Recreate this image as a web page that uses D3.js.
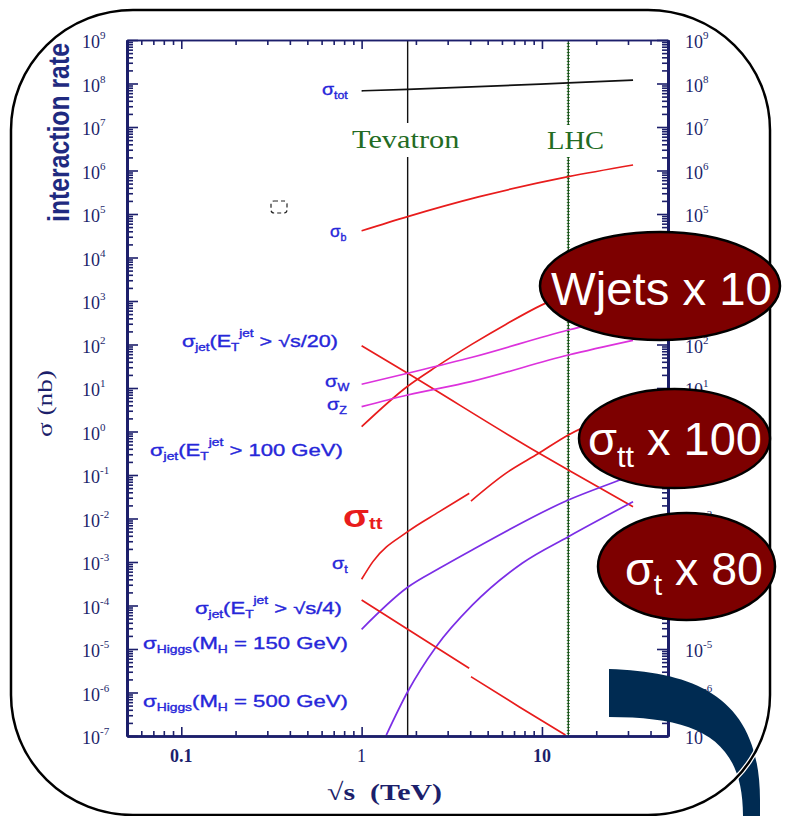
<!DOCTYPE html>
<html>
<head>
<meta charset="utf-8">
<script src="https://cdn.jsdelivr.net/npm/d3@7"></script>
<style>
 body { margin: 0; background: #fff; }
 svg { display: block; }
 text { white-space: pre; }
</style>
</head>
<body>
<svg id="chart" width="786" height="816"></svg>
<script>
 // ---- data (sqrt(s) in TeV, sigma in nb) ----
 const energyDomain = [0.05, 50];
 const sigmaDomain = [1e-7, 1e9];
 const tevatronE = 1.8;
 const lhcE = 14;

 const sigmaTot = [[1, 6.8e7], [1.8, 7.3e7], [14, 1.03e8], [32, 1.2e8]];
 const sigmaB = [[1, 4.1e4], [1.8, 8.7e4], [4.5, 2.5e5], [14, 7.2e5], [32, 1.34e6]];
 const sigmaJet20 = [[1, 93.8], [1.8, 21.8], [9.6, 0.32], [14, 0.13], [32, 0.0187]];
 const sigmaJet100 = [[1, 1.29], [1.8, 11], [2.6, 31], [4.1, 102], [6.3, 290], [10, 815], [20, 2500], [33, 5200]];
 const sigmaW = [[1, 12.2], [1.8, 21.8], [4.1, 50.8], [14, 215], [33, 500]];
 const sigmaZ = [[1, 3.72], [1.8, 6.9], [4.04, 14.0], [14, 57.4], [32, 125]];
 const sigmaTopPpbar = [[1, 4.0e-4], [1.155, 1.02e-3], [1.8, 4.98e-3], [2.7, 1.44e-2], [3.95, 3.79e-2]];
 const sigmaTopPp = [[4.04, 2.52e-2], [6.3, 0.109], [9.6, 0.315], [14, 0.832], [33, 3.2]];
 const sigmaHiggs150 = [[1, 2.84e-5], [1.8, 2.62e-4], [2.7, 7.16e-4], [4.1, 1.89e-3], [14, 2.66e-2], [27, 7.67e-2], [33, 0.106]];
 const sigmaHiggs500 = [[1.37, 1.05e-7], [1.8, 1.04e-6], [2.59, 1.13e-5], [4.12, 1.03e-4], [7.8, 9.5e-4], [14, 3.82e-3], [32, 2.43e-2]];
 const sigmaJet4Ppbar = [[1, 1.34e-4], [1.8, 2.84e-5], [3.95, 3.6e-6]];
 const sigmaJet4Pp = [[4.04, 2.31e-6], [7.46, 4.72e-7], [13.5, 1.05e-7]];

 const xTickValues = [0.1, 1, 10];
 const xTickLabels = ['0.1', '1', '10'];
 const yTickExponents = [-7, -6, -5, -4, -3, -2, -1, 0, 1, 2, 3, 4, 5, 6, 7, 8, 9];
 // right-hand labels that the badges hide completely are left out
 const yRightExponents = [-7, -6, -5, -2, 1, 2, 5, 6, 7, 8, 9];

 const red = '#e81c1c', magenta = '#dc32dc', purple = '#7b2ee6';
 const curves = [
   {color: '#111', segs: [sigmaTot]},
   {color: red, segs: [sigmaB]},
   {color: red, segs: [sigmaJet20]},
   {color: red, segs: [sigmaJet100]},
   {color: magenta, segs: [sigmaW]},
   {color: magenta, segs: [sigmaZ]},
   {color: red, segs: [sigmaTopPpbar, sigmaTopPp]},
   {color: purple, segs: [sigmaHiggs150]},
   {color: purple, segs: [sigmaHiggs500]},
   {color: red, segs: [sigmaJet4Ppbar, sigmaJet4Pp]}
 ];

 // label texts: [text, size, baseline offset]
 const sig = 'σ';
 const curveLabels = [
   [[sig, 16, 0], ['tot', 10, 4]],
   [[sig, 16, 0], ['b', 10, 4]],
   [[sig, 16, 0], ['jet', 10, 4], ['(E', 16, 0], ['T', 10, 4], ['jet', 10, -10], [' > √s/20)', 16, 0]],
   [[sig, 16, 0], ['W', 10, 4]],
   [[sig, 16, 0], ['Z', 10, 4]],
   [[sig, 16, 0], ['jet', 10, 4], ['(E', 16, 0], ['T', 10, 4], ['jet', 10, -10], [' > 100 GeV)', 16, 0]],
   [[sig, 16, 0], ['t', 10, 4]],
   [[sig, 16, 0], ['jet', 10, 4], ['(E', 16, 0], ['T', 10, 4], ['jet', 10, -10], [' > √s/4)', 16, 0]],
   [[sig, 16, 0], ['Higgs', 10, 4], ['(M', 16, 0], ['H', 10, 4], [' = 150 GeV)', 16, 0]],
   [[sig, 16, 0], ['Higgs', 10, 4], ['(M', 16, 0], ['H', 10, 4], [' = 500 GeV)', 16, 0]]
 ];
 // layout for labels: x0, x1, baseline
 const curveLabelBoxes = [
   [322, 348, 95], [330, 347, 237], [182, 338, 347], [325, 350, 387], [327, 347, 410],
   [150, 343, 456], [332, 348, 569], [195, 342, 614], [143, 348, 649], [143, 348, 707]
 ];

 const badges = [
   {cx: 660, cy: 286, rx: 120, ry: 54, parts: [['Wjets x 10', 46, 0]], box: [551, 772, 305]},
   {cx: 674.5, cy: 438.5, rx: 95.5, ry: 49.5, parts: [[sig, 46, 0], ['tt', 30, 12], [' x 100', 46, 0]], box: [588, 762, 455]},
   {cx: 686.5, cy: 566.5, rx: 88.5, ry: 53.5, parts: [[sig, 46, 0], ['t', 30, 10], [' x 80', 46, 0]], box: [625, 763, 585]}
 ];

 // ---- drawing ----
 const svg = d3.select('#chart');
 const plot = {left: 127, right: 668, top: 40, bottom: 736};
 const x = d3.scaleLog().domain(energyDomain).range([plot.left, plot.right]);
 const y = d3.scaleLog().domain(sigmaDomain).range([plot.bottom, plot.top]);
 const navy = '#1c1f6b';

 svg.append('defs').append('clipPath').attr('id', 'plotclip')
    .append('rect').attr('x', plot.left).attr('y', plot.top)
    .attr('width', plot.right - plot.left).attr('height', plot.bottom - plot.top);

 function fitText(parts, box, style) {
   const t = svg.append('text')
                .attr('fill', style.fill)
                .attr('font-family', style.family)
                .attr('font-weight', style.weight || 'normal');
   if (style.stroke) t.attr('stroke', style.fill).attr('stroke-width', style.stroke);
   parts.forEach(p => t.append('tspan').attr('y', p[2]).attr('font-size', p[1]).text(p[0]));
   const bb = t.node().getBBox();
   const sx = (box[1] - box[0]) / bb.width;
   if (style.rotate) {
     t.attr('transform', `translate(${box[2]},${box[1]}) rotate(-90) scale(${sx},1) translate(${-bb.x},0)`);
   } else {
     t.attr('transform', `translate(${box[0]},${box[2]}) scale(${sx},1) translate(${-bb.x},0)`);
   }
   return t;
 }

 // vertical collider lines
 svg.append('line').attr('x1', x(tevatronE)).attr('x2', x(tevatronE))
    .attr('y1', plot.top).attr('y2', plot.bottom)
    .attr('stroke', '#111').attr('stroke-width', 1.4);
 svg.append('line').attr('x1', x(lhcE)).attr('x2', x(lhcE))
    .attr('y1', plot.top).attr('y2', plot.bottom)
    .attr('stroke', '#3a9a3a').attr('stroke-width', 3).attr('stroke-dasharray', '1,2');
 svg.append('line').attr('x1', x(lhcE)).attr('x2', x(lhcE))
    .attr('y1', plot.top).attr('y2', plot.bottom)
    .attr('stroke', '#173d17').attr('stroke-width', 1.2);

 // curves
 const line = d3.line().x(d => x(d[0])).y(d => y(d[1])).curve(d3.curveMonotoneX);
 const gCurves = svg.append('g').attr('clip-path', 'url(#plotclip)');
 curves.forEach(c => {
   c.segs.forEach(s => {
     gCurves.append('path').attr('d', line(s)).attr('fill', 'none')
            .attr('stroke', c.color).attr('stroke-width', 1.7);
   });
 });

 // collider names with white background
 svg.append('rect').attr('x', 350).attr('y', 123).attr('width', 112).attr('height', 34).attr('fill', '#fff');
 svg.append('rect').attr('x', 545).attr('y', 125).attr('width', 62).attr('height', 32).attr('fill', '#fff');
 fitText([['Tevatron', 25, 0]], [352, 460, 148], {fill: '#236b23', family: 'Liberation Serif, serif'});
 fitText([['LHC', 25, 0]], [547, 604, 149], {fill: '#236b23', family: 'Liberation Serif, serif'});

 // axes
 const yMajor = yTickExponents.map(e => Math.pow(10, e));
 const yMinor = d3.range(-7, 9).flatMap(e => d3.range(2, 10).map(m => m * Math.pow(10, e)));
 const xAll = x.ticks();
 const xMinor = xAll.filter(v => !xTickValues.some(t => Math.abs(t - v) < 1e-9));

 function styleAxis(g, w) {
   g.select('.domain').attr('stroke', navy).attr('stroke-width', w);
   g.selectAll('.tick line').attr('stroke', navy).attr('stroke-width', 1.6);
 }
 const axes = [
   [d3.axisLeft(y).tickValues(yMajor).tickSize(-11), `translate(${plot.left},0)`, 3],
   [d3.axisLeft(y).tickValues(yMinor).tickSize(-6), `translate(${plot.left},0)`, 3],
   [d3.axisRight(y).tickValues(yMajor).tickSize(-11), `translate(${plot.right},0)`, 3],
   [d3.axisRight(y).tickValues(yMinor).tickSize(-6), `translate(${plot.right},0)`, 3],
   [d3.axisBottom(x).tickValues(xTickValues).tickSize(-9), `translate(0,${plot.bottom})`, 2.5],
   [d3.axisBottom(x).tickValues(xMinor).tickSize(-5), `translate(0,${plot.bottom})`, 2.5],
   [d3.axisTop(x).tickValues(xTickValues).tickSize(-9), `translate(0,${plot.top})`, 1.5],
   [d3.axisTop(x).tickValues(xMinor).tickSize(-5), `translate(0,${plot.top})`, 1.5]
 ];
 axes.forEach(a => {
   const g = svg.append('g').attr('transform', a[1])
                .call(a[0].tickSizeOuter(0).tickFormat(''));
   styleAxis(g, a[2]);
 });

 // tick labels
 function powerLabel(lx, e) {
   const t = svg.append('text').attr('x', lx).attr('y', y(Math.pow(10, e)) + 8)
                .attr('fill', navy).attr('font-family', 'Liberation Serif, serif')
                .attr('font-size', 18);
   t.append('tspan').text('10');
   t.append('tspan').attr('font-size', 11).attr('dy', -9).text(e);
 }
 yTickExponents.forEach(e => powerLabel(82, e));
 yRightExponents.forEach(e => powerLabel(685, e));
 xTickValues.forEach((v, i) => {
   svg.append('text').attr('x', x(v)).attr('y', 762).attr('text-anchor', 'middle')
      .attr('fill', navy).attr('font-family', 'Liberation Serif, serif')
      .attr('font-size', 18).attr('font-weight', i === 1 ? 'normal' : 'bold').text(xTickLabels[i]);
 });

 // axis titles
 fitText([['√s  (TeV)', 24, 0]], [327, 442, 800], {fill: navy, family: 'Liberation Serif, serif', weight: 'bold'});
 fitText([['σ (nb)', 22, 0]], [370, 437, 52], {fill: navy, family: 'Liberation Serif, serif', rotate: true});
 fitText([['interaction rate', 30, 0]], [43, 222, 69], {fill: '#1f2a80', family: 'Liberation Sans, Arial, sans-serif', weight: 'bold', rotate: true});

 // curve labels
 curveLabels.forEach((parts, i) => {
   fitText(parts, curveLabelBoxes[i], {fill: '#2626d9', family: 'Liberation Sans, DejaVu Sans, sans-serif', stroke: 0.35});
 });
 fitText([[sig, 32, 0], ['tt', 17, 2]], [343, 383, 527], {fill: red, family: 'Liberation Sans, sans-serif', weight: 'bold'});

 // small dashed marker
 svg.append('rect').attr('x', 271).attr('y', 201).attr('width', 16).attr('height', 12).attr('rx', 3)
    .attr('fill', 'none').attr('stroke', '#222').attr('stroke-width', 1.2).attr('stroke-dasharray', '4,3');

 // decorative band
 svg.append('path')
    .attr('d', 'M609,669 C700,672 760,700 760,800 L760,816 L743,816 C743,740 700,717 609,717 Z')
    .attr('fill', '#002b52');

 // slide frame
 const frame = {x: 11, y: 10, width: 759, height: 805, rx: 122, ry: 120};
 [['#fff', 5], ['#000', 2.5]].forEach(s => {
   svg.append('rect').attr('x', frame.x).attr('y', frame.y).attr('width', frame.width).attr('height', frame.height)
      .attr('rx', frame.rx).attr('ry', frame.ry).attr('fill', 'none').attr('stroke', s[0]).attr('stroke-width', s[1]);
 });

 // badges
 badges.forEach(b => {
   svg.append('ellipse').attr('cx', b.cx).attr('cy', b.cy).attr('rx', b.rx).attr('ry', b.ry)
      .attr('fill', '#7d0000').attr('stroke', '#000').attr('stroke-width', 2.5);
   fitText(b.parts, b.box, {fill: '#fff', family: 'Liberation Sans, Arial, sans-serif'});
 });
</script>
</body>
</html>
